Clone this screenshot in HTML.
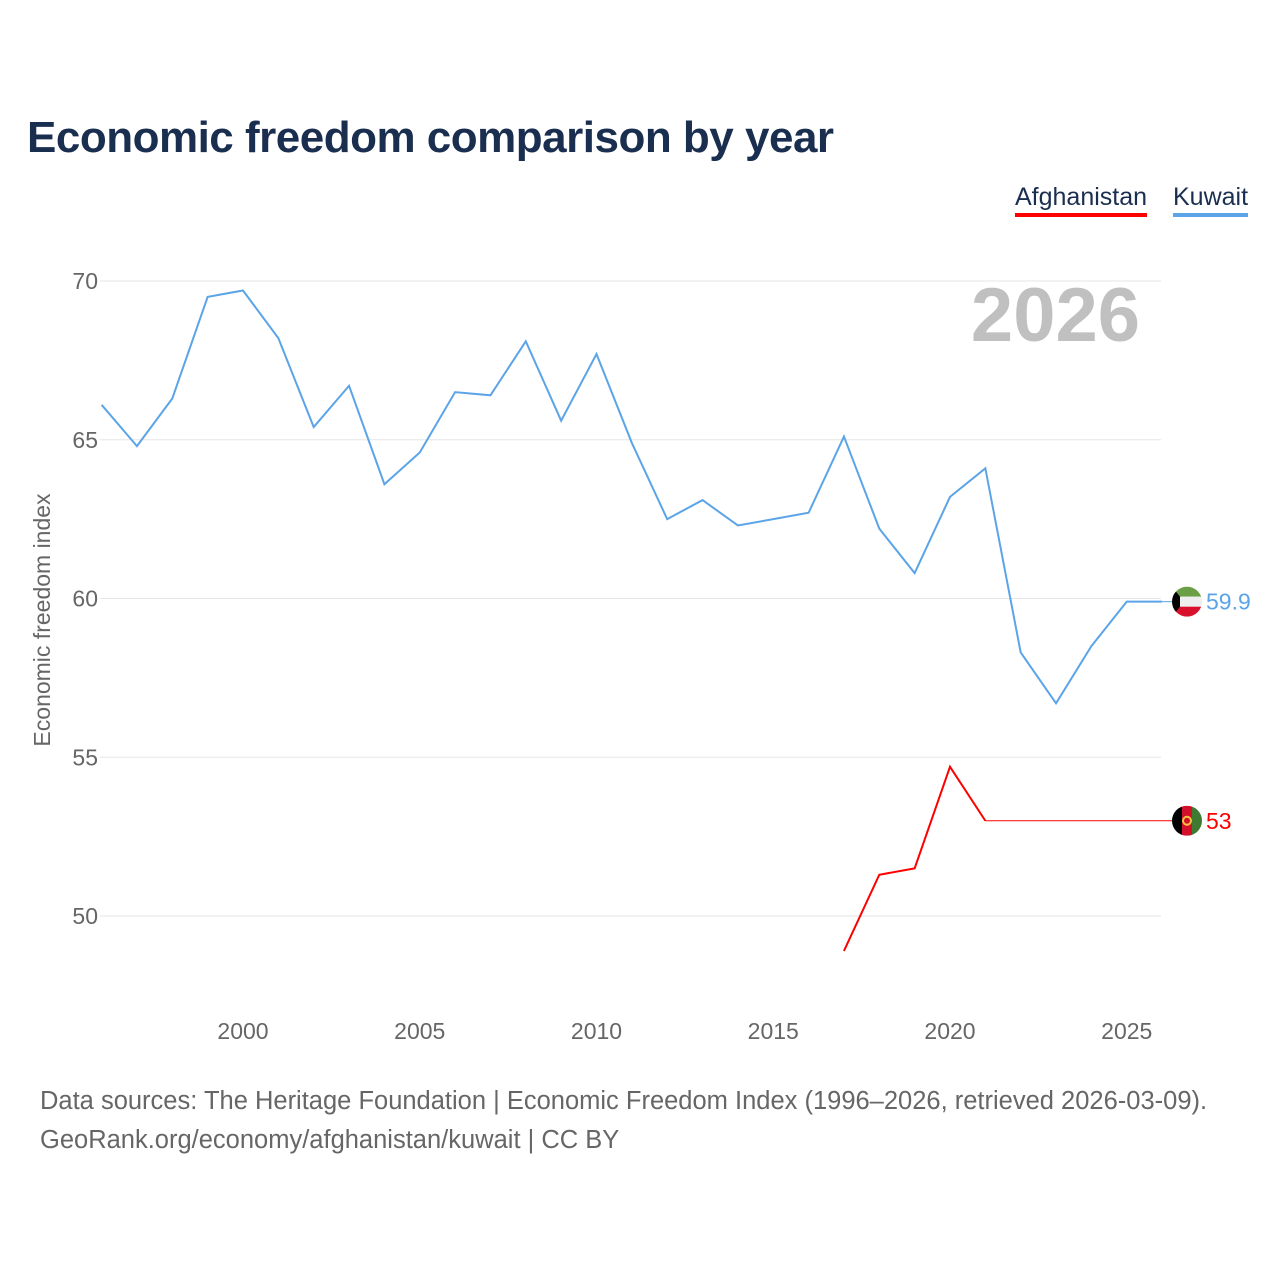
<!DOCTYPE html>
<html><head><meta charset="utf-8"><style>
body{margin:0;background:#fff;font-family:"Liberation Sans",sans-serif}
#wrap{position:relative;width:1280px;height:1280px}
h1{position:absolute;left:27px;top:113px;margin:0;font-size:44px;color:#1a2e4f;font-weight:bold;letter-spacing:-0.5px}
.leg{position:absolute;top:183px;font-size:25px;color:#1a2e4f;padding-bottom:1px}
.src{position:absolute;left:40px;font-size:25.5px;color:#666}
</style></head><body><div id="wrap">
<h1>Economic freedom comparison by year</h1>
<div class="leg" style="left:1015px;border-bottom:4px solid #f00">Afghanistan</div>
<div class="leg" style="left:1173px;border-bottom:4px solid #5ba4e8">Kuwait</div>
<svg id="svg" width="1280" height="1280" style="position:absolute;left:0;top:0"></svg>
<div class="src" style="top:1087px">Data sources: The Heritage Foundation | Economic Freedom Index (1996–2026, retrieved 2026-03-09).</div>
<div class="src" style="top:1126px">GeoRank.org/economy/afghanistan/kuwait | CC BY</div>
</div>
<script>
const kuwaitYears=[1996,1997,1998,1999,2000,2001,2002,2003,2004,2005,2006,2007,2008,2009,2010,2011,2012,2013,2014,2015,2016,2017,2018,2019,2020,2021,2022,2023,2024,2025,2026];
const kuwaitValues=[66.1,64.8,66.3,69.5,69.7,68.2,65.4,66.7,63.6,64.6,66.5,66.4,68.1,65.6,67.7,64.9,62.5,63.1,62.3,62.5,62.7,65.1,62.2,60.8,63.2,64.1,58.3,56.7,58.5,59.9,59.9];
const afgYears=[2017,2018,2019,2020,2021,2026];
const afgValues=[48.9,51.3,51.5,54.7,53.0,53.0];
const yTicks=[50,55,60,65,70];
const xTicks=[2000,2005,2010,2015,2020,2025];
const NS="http://www.w3.org/2000/svg";
const svg=document.getElementById('svg');
const X=y=>243+(y-2000)*35.35;
const Y=v=>281+(70-v)*31.75;
function mk(t,a,txt){const e=document.createElementNS(NS,t);for(const k in a)e.setAttribute(k,a[k]);if(txt!==undefined)e.textContent=txt;svg.appendChild(e);return e;}
yTicks.forEach(v=>{
 const l=mk('line',{x1:100,x2:1161,y1:Y(v),y2:Y(v),stroke:'#e6e6e6','stroke-width':1});
 
 
 const t=mk('text',{x:98,y:Y(v)+8,'text-anchor':'end','font-size':23,fill:'#666','font-family':'Liberation Sans'},v);
 
 
});
xTicks.forEach(v=>{
 const t=mk('text',{x:X(v),y:1039,'text-anchor':'middle','font-size':23,fill:'#666','font-family':'Liberation Sans'},v);
 
 
});
const yt=mk('text',{transform:'translate(50,620) rotate(-90)','text-anchor':'middle','font-size':23,fill:'#666','font-family':'Liberation Sans'},'Economic freedom index');


const yr=mk('text',{x:1140,y:341,'text-anchor':'end','font-size':76,'font-weight':'bold',fill:'#c0c0c0','font-family':'Liberation Sans'},'2026');


const pk=mk('polyline',{points:kuwaitYears.map((y,i)=>X(y)+','+Y(kuwaitValues[i])).join(' '),fill:'none',stroke:'#5ba4e8','stroke-width':2});


const pa=mk('polyline',{points:afgYears.slice(0,5).map((y,i)=>X(y)+','+Y(afgValues[i])).join(' '),fill:'none',stroke:'#f00','stroke-width':2});


const pa2=mk('line',{x1:X(afgYears[4]),y1:Y(afgValues[4]),x2:1172,y2:Y(afgValues[5]),stroke:'#f00','stroke-width':1});


const kLast=kuwaitValues[kuwaitValues.length-1], aLast=afgValues[afgValues.length-1];
mk('line',{x1:X(2026),y1:Y(kLast),x2:1172,y2:Y(kLast),stroke:'#5ba4e8','stroke-width':1});
const defs=mk('defs',{});
function clip(id,cy){const c=document.createElementNS(NS,'clipPath');c.setAttribute('id',id);const ci=document.createElementNS(NS,'circle');ci.setAttribute('cx',1187);ci.setAttribute('cy',cy);ci.setAttribute('r',15);c.appendChild(ci);defs.appendChild(c);}
const ky=Y(kLast), ay=Y(aLast);
clip('ck',ky);clip('ca',ay);
const gk=mk('g',{'clip-path':'url(#ck)'});


[['#6a9f45',0],['#eeeeee',10],['#d8102c',20]].forEach(([c,o])=>{const r=document.createElementNS(NS,'rect');r.setAttribute('x',1172);r.setAttribute('y',ky-15+o);r.setAttribute('width',30);r.setAttribute('height',10);r.setAttribute('fill',c);gk.appendChild(r);});
const tp=document.createElementNS(NS,'polygon');tp.setAttribute('points',`1172,${ky-15} 1180,${ky-5} 1180,${ky+5} 1172,${ky+15}`);tp.setAttribute('fill','#000');gk.appendChild(tp);
const ga=mk('g',{'clip-path':'url(#ca)'});


[['#000',0],['#d3102a',10],['#3f7a33',20]].forEach(([c,o])=>{const r=document.createElementNS(NS,'rect');r.setAttribute('x',1172+o);r.setAttribute('y',ay-15);r.setAttribute('width',10);r.setAttribute('height',30);r.setAttribute('fill',c);ga.appendChild(r);});
const em=document.createElementNS(NS,'circle');em.setAttribute('cx',1187);em.setAttribute('cy',ay);em.setAttribute('r',4);em.setAttribute('fill','none');em.setAttribute('stroke','#f5c542');em.setAttribute('stroke-width',2);ga.appendChild(em);
const lk=mk('text',{x:1206,y:ky+8,'font-size':23,fill:'#5ba4e8','font-family':'Liberation Sans'},kLast.toFixed(1));


const la=mk('text',{x:1206,y:ay+8,'font-size':23,fill:'#f00','font-family':'Liberation Sans'},String(aLast));


</script></body></html>
